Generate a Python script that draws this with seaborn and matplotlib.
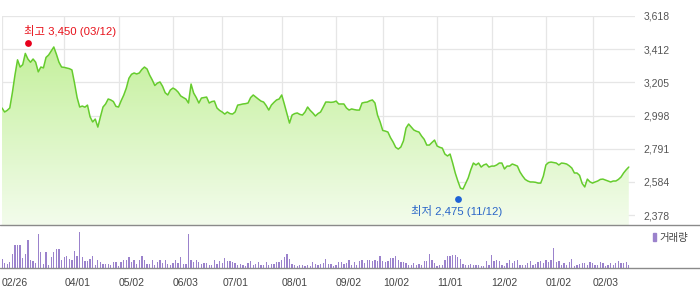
import numpy as np
import pandas as pd
import matplotlib
matplotlib.use("Agg")
import matplotlib.pyplot as plt
import seaborn as sns
from matplotlib.colors import LinearSegmentedColormap
from matplotlib.lines import Line2D
from matplotlib.patches import Patch

# ---------------- data ----------------
price = [
    3045, 3020, 3030, 3045, 3140, 3250, 3345, 3300, 3315, 3385,
    3350, 3330, 3350, 3330, 3270, 3300, 3295, 3360, 3375, 3400,
    3425, 3380, 3330, 3300, 3298, 3294, 3290, 3282, 3200, 3110,
    3051, 3057, 3050, 3063, 2990, 2958, 2976, 2926, 2990, 3051,
    3070, 3101, 3095, 3085, 3055, 3051, 3090, 3125, 3169, 3230,
    3255, 3263, 3257, 3263, 3285, 3300, 3288, 3250, 3220, 3185,
    3200, 3207, 3180, 3140, 3126, 3157, 3169, 3160, 3144, 3120,
    3110, 3101, 3076, 3194, 3138, 3110, 3076, 3107, 3110, 3113,
    3076, 3085, 3088, 3045, 3030, 3020, 3007, 3020, 3010, 3007,
    3020, 3063, 3066, 3070, 3072, 3076, 3110, 3126, 3113, 3100,
    3088, 3082, 3060, 3032, 3063, 3080, 3095, 3101, 3126, 3070,
    3010, 2951, 3001, 3010, 3014, 3005, 3001, 3020, 3051, 3030,
    3014, 2995, 3010, 3020, 3050, 3082, 3082, 3080, 3082, 3088,
    3070, 3070, 3070, 3045, 3032, 3039, 3035, 3032, 3032, 3076,
    3080, 3082, 3090, 3095, 3076, 3000, 2958, 2905, 2901, 2895,
    2860, 2833, 2800, 2789, 2802, 2840, 2920, 2945, 2926, 2908,
    2900, 2895, 2870, 2850, 2814, 2814, 2830, 2845, 2808, 2800,
    2795, 2758, 2746, 2758, 2702, 2640, 2590, 2546, 2540, 2575,
    2609, 2660, 2702, 2690, 2702, 2677, 2690, 2696, 2677, 2683,
    2683, 2690, 2702, 2702, 2665, 2683, 2683, 2696, 2690, 2683,
    2646, 2621, 2600, 2590, 2584, 2584, 2582, 2577, 2577, 2620,
    2690, 2705, 2708, 2705, 2702, 2690, 2702, 2700, 2696, 2685,
    2671, 2640, 2640, 2625, 2575, 2553, 2602, 2585, 2577, 2584,
    2590, 2600, 2602, 2596, 2590, 2584, 2590, 2590, 2600, 2615,
    2640, 2660, 2677, 2702,
]

volume = [
    9, 5, 4, 6, 14, 23, 23, 23, 10, 14, 28, 8, 7, 5, 34, 16, 4, 16, 3, 11,
    16, 19, 19, 8, 11, 12, 9, 8, 17, 12, 36, 11, 7, 7, 9, 12, 3, 8, 6, 4,
    4, 4, 3, 6, 6, 2, 6, 8, 8, 11, 6, 8, 4, 8, 12, 8, 4, 4, 8, 3,
    6, 8, 5, 8, 4, 3, 5, 8, 5, 11, 4, 4, 34, 8, 6, 8, 6, 4, 5, 5,
    3, 3, 8, 4, 7, 5, 10, 7, 7, 6, 5, 3, 4, 3, 2, 5, 7, 3, 4, 6,
    3, 3, 6, 3, 4, 4, 6, 6, 8, 11, 14, 9, 4, 3, 2, 3, 3, 2, 3, 2,
    6, 4, 3, 4, 5, 9, 4, 4, 2, 3, 6, 6, 4, 5,
    8, 3, 6, 3, 7, 8, 5, 8, 8, 7, 8, 7, 12, 7, 6, 7, 10, 10, 12, 8,
    6, 6, 5, 3, 3, 5, 3, 4, 3, 7, 7, 14, 8, 5, 2, 3, 3, 8, 12, 12,
    13, 13, 11, 9, 4, 3, 3, 4, 3, 3, 3, 2, 2, 7, 3, 13, 7, 8, 7, 3,
    2, 5, 8, 5, 7, 8, 3, 3, 3, 5, 7, 3, 4, 6, 7, 5, 8, 6, 8, 20,
    6, 7, 3, 5, 3, 6, 9, 2, 3, 4, 5, 5, 3, 6, 5, 3, 3, 6, 5, 2,
    3, 5, 3, 5, 7, 5, 5, 6, 3,
]

date_ticks = [0, 24, 45, 66, 85, 108, 129, 147, 168, 189, 210, 228]
date_labels = ["02/26", "04/01", "05/02", "06/03", "07/01", "08/01",
               "09/02", "10/02", "11/01", "12/02", "01/02", "02/03"]
price_ticks = [2378, 2584, 2791, 2998, 3205, 3412, 3618]

high_idx, high_val, high_label = 10, 3450, "최고 3,450 (03/12)"
low_idx, low_val, low_label = 176, 2475, "최저 2,475 (11/12)"
volume_label = "거래량"

n = min(len(price), len(volume))
df = pd.DataFrame({"idx": np.arange(n), "price": price[:n], "volume": volume[:n]})

# ---------------- style ----------------
sns.set_style("white")
plt.rcParams["font.family"] = ["Liberation Sans", "Noto Sans CJK KR", "DejaVu Sans"]

W, H = 700, 289
fig = plt.figure(figsize=(W / 100, H / 100), dpi=100)

def rect(x0, y0, x1, y1):
    return [x0 / W, 1 - y1 / H, (x1 - x0) / W, (y1 - y0) / H]

ax = fig.add_axes(rect(2, 16, 635, 225))
axv = fig.add_axes(rect(2, 228, 635, 268))

XMAX = 244.4
YLO, YHI = 2316, 3618

line_col = "#66cc2e"
ax.set_xlim(0, XMAX)
ax.set_ylim(YLO, YHI)

# gradient fill under line
poly = ax.fill_between(df["idx"], df["price"], YLO, facecolor="none", edgecolor="none")
cmap = LinearSegmentedColormap.from_list("g", ["#bcee8e", "#f3fcec"])
grad = np.linspace(0, 1, 256).reshape(-1, 1)
im = ax.imshow(grad, cmap=cmap, aspect="auto", extent=[0, XMAX, YLO, YHI],
               origin="upper", zorder=1)
im.set_clip_path(poly.get_paths()[0], transform=ax.transData)

sns.lineplot(data=df, x="idx", y="price", ax=ax, color=line_col,
             linewidth=1.1, zorder=3)
ax.set_xlim(0, XMAX)
ax.set_ylim(YLO, YHI)

ax.set_yticks(price_ticks)
ax.set_yticklabels([f"{v:,}" for v in price_ticks])
ax.yaxis.tick_right()
ax.tick_params(axis="y", length=0, pad=6, labelsize=7.5, labelcolor="#555555")
ax.set_xticks(date_ticks)
ax.tick_params(axis="x", length=0, labelbottom=False)
ax.grid(True, color="#e6e6e6", linewidth=0.9)
ax.set_axisbelow(True)
for s in ax.spines.values():
    s.set_visible(False)
ax.set_xlabel("")
ax.set_ylabel("")

# high / low markers
ax.scatter([high_idx], [high_val], s=24, color="#e8001c", zorder=5, linewidths=0)
ax.scatter([low_idx], [low_val], s=24, color="#1f63d6", zorder=5, linewidths=0)
ax.annotate(high_label, xy=(high_idx, high_val), xytext=(-4, 12),
            textcoords="offset pixels", ha="left", va="center",
            fontsize=8.2, color="#e8121b", zorder=6)
ax.annotate(low_label, xy=(low_idx, low_val), xytext=(-1, -12),
            textcoords="offset pixels", ha="center", va="center",
            fontsize=8.2, color="#2a66c8", zorder=6)

# volume
vol_col = "#9b82cc"
sns.barplot(data=df, x="idx", y="volume", ax=axv, color=vol_col, saturation=1,
            width=0.5, native_scale=True, orient="x", errorbar=None,
            linewidth=0, antialiased=False)
axv.set_xlim(0, XMAX)
axv.set_ylim(0, 40)
axv.set_yticks([])
axv.set_xticks(date_ticks)
axv.set_xticklabels(date_labels, ha="left")
axv.tick_params(axis="x", length=4, width=0.8, color="#888888", pad=3,
                labelsize=7.5, labelcolor="#444444", direction="out")
for s in axv.spines.values():
    s.set_visible(False)
axv.set_xlabel("")
axv.set_ylabel("")

# full-width separator lines
for yy in (225, 268):
    fig.add_artist(Line2D([0, 1], [1 - yy / H, 1 - yy / H], transform=fig.transFigure,
                          color="#8a8a8a", linewidth=1.0))

fig.legend(handles=[Patch(color=vol_col)], labels=[volume_label],
           loc="center left", bbox_to_anchor=(652.5 / W, 1 - 238 / H),
           frameon=False, fontsize=7.5, handlelength=0.3, handleheight=0.8,
           handletextpad=0.35, borderpad=0, borderaxespad=0, labelcolor="#444444")

fig.savefig("out.png", dpi=100)
